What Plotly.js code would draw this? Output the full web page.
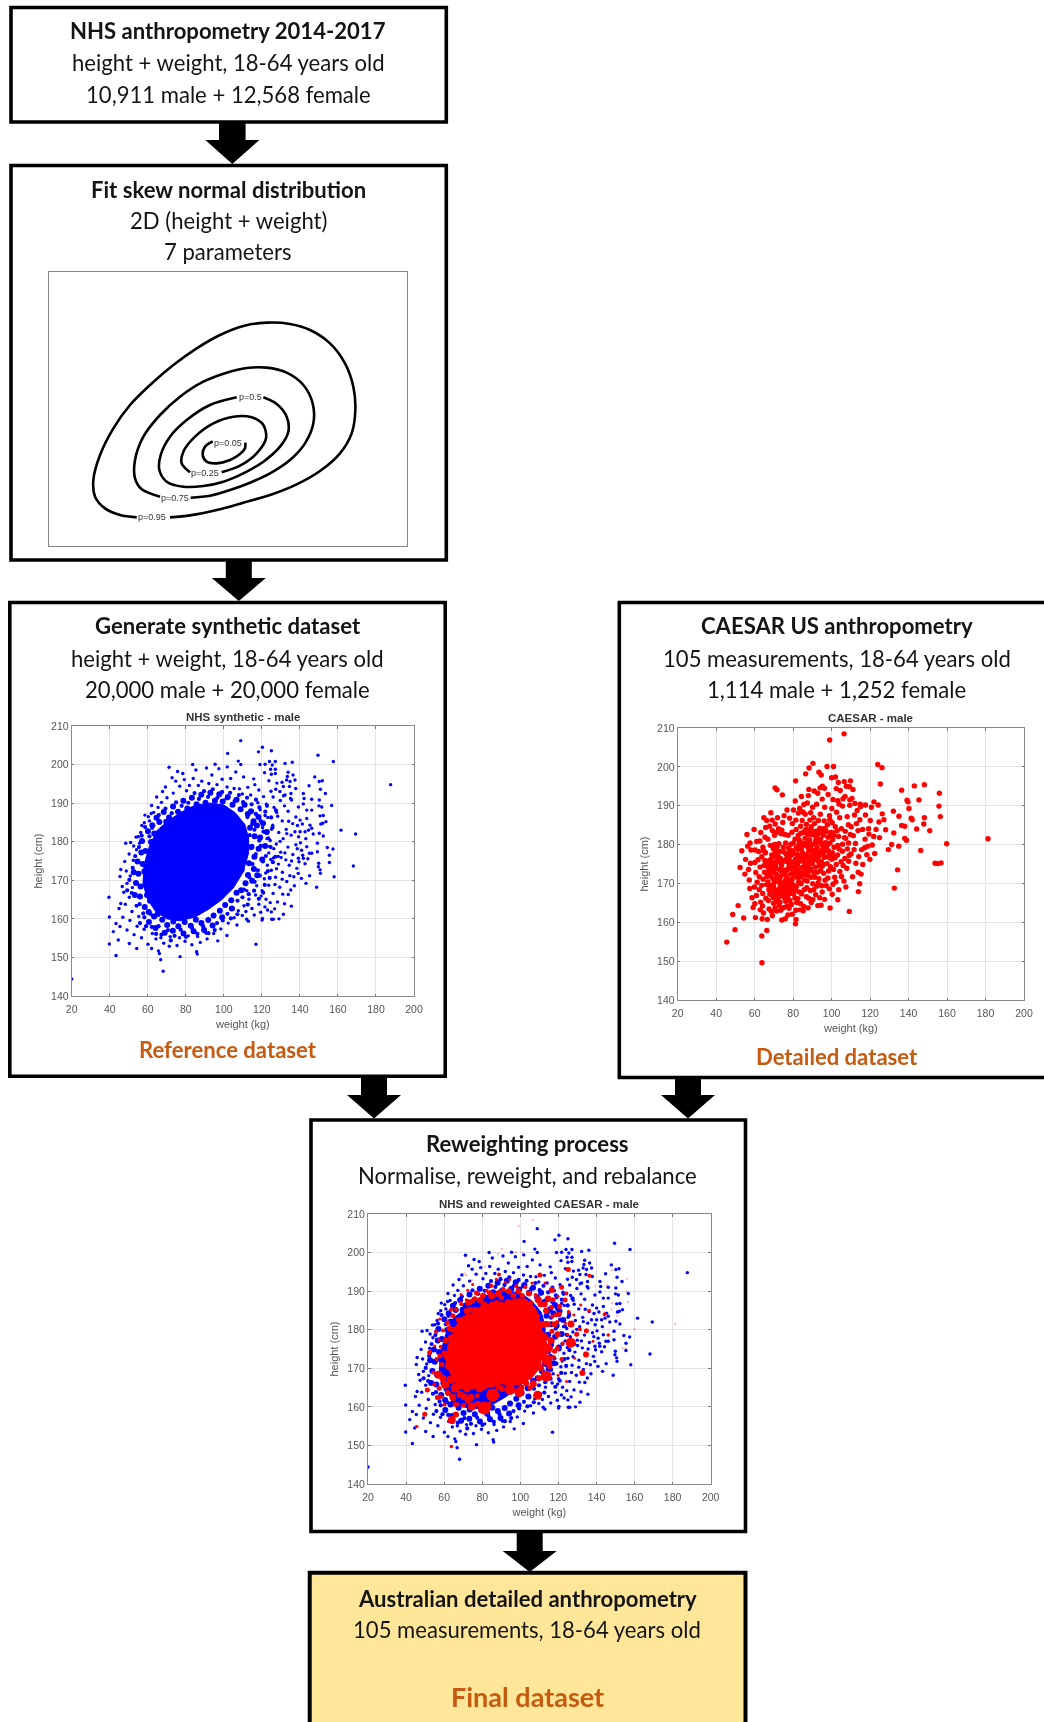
<!DOCTYPE html>
<html>
<head>
<meta charset="utf-8">
<script src="https://cdn.plot.ly/plotly-3.0.1.min.js"></script>
<style>html,body{margin:0;padding:0;background:#fff;overflow:hidden}#chart{width:1044px;height:1722px;filter:blur(0.4px)}text{font-variant-ligatures:none}</style>
</head>
<body>
<div id="chart"></div>
<script>
// ---------- contour lines of the fitted distribution ----------
const contour95 = [[300,652],[360,646],[440,630],[520,608],[600,585],[680,553],[750,513],[810,460],[845,400],[856,330],[850,260],[825,190],[780,130],[720,90],[660,72],[590,68],[520,78],[450,105],[380,145],[310,195],[240,255],[180,315],[130,385],[90,465],[70,540],[75,590],[105,625],[150,645],[200,652]];
const contour75 = [[362,593],[420,587],[480,570],[540,548],[600,520],[660,480],[705,430],[730,370],[728,310],[700,255],[650,218],[590,203],[530,204],[470,218],[400,245],[330,290],[270,345],[220,410],[195,480],[195,535],[215,568],[270,590]];
const contour50 = [[580,292],[620,312],[650,350],[655,395],[630,440],[580,485],[520,520],[460,545],[400,558],[340,560],[290,545],[268,510],[272,465],[300,410],[350,360],[420,315],[500,292]];
const contour25 = [[455,517],[510,497],[560,460],[588,415],[580,375],[545,352],[490,350],[430,370],[375,410],[340,455],[335,490],[360,517]];
const contour05 = [[526,428],[525,445],[510,462],[480,480],[440,490],[410,485],[398,465],[405,440],[428,424]];
const contourLabels = ['p=0.95','p=0.75','p=0.5','p=0.25','p=0.05'];
const contourLabelX = [246,316,540,405,475];
const contourLabelY = [652,593,292,518,428];

// ---------- NHS synthetic male [weight, height] ----------
const nhsCore = [[57.5,169],[58,174],[61,179],[65,183],[71,185.5],[77,187.5],[85,189.5],[93,190],[100,189.5],[106,187.5],[111,184.5],[113,181],[113,177],[110,172],[105,168],[99,165],[92,162.5],[85,160.5],[77,159.5],[70,160],[64,162],[60,165],[57.5,169]];
const nhsClumps = [
[56.2,168.4],[55.1,171.7],[57.3,174.2],[55.9,165.8],[58.4,163.1],[54.6,174.9],[58.8,177.6],[57,180.2],[60.1,182.7],[56.6,177.2],[59.4,169.7],[53.8,169.3],[58.2,172.3],[60.5,161.8],[62.4,184.3],[64.6,186.2],[61.7,179.9],[63.4,182.1],[66.1,185.1],[53.2,166.2],[52.6,172.1],[61.2,164.7],[63.3,160.6],[59.6,166.2],
[68.4,187.7],[71.2,186.3],[73.3,189.1],[75.9,187.8],[78.7,190.6],[80.8,188.6],[83.2,191.4],[85.7,189.7],[88.1,192.2],[90.4,190.1],[92.9,192.7],[95.3,190.6],[97.6,192.3],[99.4,190.4],[102.1,191.6],[104.6,189.6],[106.7,190.9],[108.8,188.4],[110.9,189.6],[112.6,187.2],[114.3,187.9],[115.6,185.3],[69.7,185.2],[76.4,185.6],[82.1,187.3],[87.4,188.5],[94.1,188.9],[100.8,188.4],
[113.8,183.6],[116.2,181.4],[117.4,184.2],[114.6,178.7],[118.3,178.2],[116.1,176.1],[113.2,174.4],[119.1,181.1],[120.6,184.8],[118.2,186.4],[112.7,171.4],[115.8,172.9],[121.7,178.9],[120.2,175.4],[111.4,169.2],[114.9,169.9],[117.6,171.3],[109.4,172.7],[122.6,182.5],
[106.7,166.8],[103.9,164.8],[109.1,167.4],[100.7,163.6],[97.9,162.1],[104.2,162.7],[94.6,160.9],[99.1,160.4],[91.8,159.7],[88.2,158.9],[85.3,159.8],[82.6,158.2],[79.4,159.2],[76.1,158.1],[73.4,159.3],[70.2,158.4],[67.6,159.8],[65.1,161.2],[64.1,157.6],[68.9,156.4],[73.2,156.9],[78.8,156.2],[84.1,156.8],[89.6,157.1],[94.1,158.3],[60.6,159.2]
];
const nhsBand = [
[112.4,186.4],[114.9,184.6],[116.8,187.2],[119.3,185.4],[121.8,187.8],[113.6,181.7],[116.1,183.1],[118.6,180.3],[120.9,182.6],[123.4,180.9],[125.6,183.7],[114.2,178.3],[116.8,176.8],[119.4,178.9],[122.1,176.3],[124.6,178.6],[127.1,176.1],[115.1,174.2],[117.9,172.6],[120.6,174.9],[123.2,172.4],[125.8,174.7],[113.4,170.8],[116.2,169.6],[118.9,171.2],[121.5,168.8],[124.1,170.6],[110.6,167.6],[113.1,166.4],[115.9,167.3],[118.4,165.2],[120.7,166.8],[107.2,164.7],[109.8,165.6],[112.6,163.7],[104.8,162.6],[107.1,161.2],[101.9,161.3],[99.4,159.6],[96.4,158.9],[103.7,160.1],
[62.3,183.6],[65.8,186.9],[69.3,188.6],[72.6,187.4],[74.9,190.2],[77.8,189.3],[81.3,190.1],[84.6,192.6],[86.9,191.1],[89.6,193.1],[91.7,191.6],[94.2,193.6],[96.6,191.4],[99.1,192.9],[101.4,191.2],[103.3,192.7],[105.7,190.6],[107.9,192.1],[110.1,190.3],[112.2,191.4],[114.6,189.7],[116.9,190.9],[118.7,188.9],[122.7,189.3],[124.9,186.3],[127.4,188.1],
[54.1,163.4],[51.6,166.7],[50.3,170.1],[52.1,173.2],[53.4,176.3],[55.4,178.6],[56.8,181.6],[58.6,183.8],[60.9,181.4],[57.6,161.4],[55.7,163.8],[49.2,167.4],
[59.1,158.1],[62.1,157.9],[65.7,158.1],[67.2,155.9],[70.6,157.1],[74.1,155.6],[77.3,157.2],[80.1,155.3],[83.3,157.6],[86.1,156.1],[89.1,158.1],[91.9,156.3],[95.2,157.1],[58.2,160.4],[61.6,161.2],[72.1,154.4],[64.4,156.1],[55.9,158.9]
];
const nhsPoints = [
[187.7,194.8],[149.5,202.4],[157.6,200.8],[108.9,206.2],[120.3,204.5],[118.2,203.3],[125,203.6],[147.8,196.8],[150.2,195.6],[151.8,195.8],[144.8,194.5],[153.4,192.5],[150.8,193.6],[150.2,190.8],[146.2,191],[156.7,189.4],[150,189.3],[151.5,189],[153.7,185.2],[152,184.8],[151,184.6],[152.3,186.8],[150.6,186.7],[161.6,183],[169.3,182],[152.3,181.5],[150.2,182.2],[147,182],[154.4,178.5],[157.4,178.1],[149.2,179.6],[155.5,176.5],[155.5,174.6],[168.1,173.7],[149.9,174.4],[149.7,173.5],[150.6,172.7],[150.8,171.8],[158,170.9],[145.1,171.2],[140.8,170.5],[143.2,169.2],[148.8,168.2],[135.2,167.5],[131,166.4],[135.5,163.3],[131.3,161.2],[116.9,153.4],[129,160],[126,159.9],[125.2,159.9],[120.3,160.1],[120.1,159.7],[123,162.3],[125,161.8],[112.9,159.4],[112,159.9],
[119,200],[121.7,200.1],[124,200.8],[127.1,200.8],[125.5,199.9],[132.2,200.3],[136,200.6],[124.6,198.8],[127.1,198.8],[127.1,197.7],[125,197.5],[133.8,198],[136.4,197.3],[133.4,196.9],[137.4,196],[134.8,195.6],[133,196],[134.5,194.3],[131.3,194.3],[137.8,193.8],[129.5,193],[132.2,192.1],[135.3,192.5],[141.8,192.5],[142.2,191.2],[139.2,189],[141.8,189.8],[146.2,188.2],[143.6,188.2],[140.1,185.6],[143.6,186],[145.3,184.3],[146.2,183.5],[144.5,183],[142.7,182.6],[140.1,182.6],[137.4,182.6],[143.6,178.7],[141.5,176.5],[141.8,175.7],[139.2,175.7],[139.5,174.8],[146.2,177],[145,177],[149.2,177.4],
[39.6,165.6],[39.8,160.5],[39.8,153.5],[43.3,150.5],[66.8,149.4],[68.1,146.4],[77,150.2],[85.7,151.5],[86,150.9],[65.6,151.7],[66.1,151],[62,152.3],[54.2,152.3],[50.3,153.6],[44.5,154.5],[41.9,156.7],[43.3,158.8],[45.4,158],[45.8,164],[45.4,171],[45.8,172.8],[48.4,179.6],[51,179.8],[56.3,182.4],[55,181.3],[58.5,186.9],[60.3,186.5],[62,189.4],[67.8,193],[71.2,199.3],[75.7,198.2],[78.4,197.7],[83.6,200],[95.4,200.1],[101.8,199.4],[107.6,200.9],[108.9,200],[102,202.9],[20,144.4],
[118.4,193.4],[123.7,195.8],[112.6,194.1],[120.9,191.7],[127.3,193.6],[115.7,196.3],[121.4,197.9],[110.4,196.8],[106.3,198.1],[99.1,196.2],[93.7,197.3],[88.4,195.7],[81.9,194.6],[85.3,198.6],[90.9,199.1],[97.4,198.9],[103.6,196.4],[108.2,193.7],[114.1,192.1],[124.8,193.1],[129.7,190.7],[126.4,188.9],[131.9,189.3],[135.6,190.8],[128.3,186.6],[123.1,186.3],[137.9,186.4],[133.8,187.9],[130.7,185.4],[125.7,184.3],[136.2,184.7],[132.8,183.2],[128.9,182.4],[124.4,180.3],[121.7,186.8],[139.3,181.3],[135.4,181.7],[131.2,180.8],[127.6,179.4],[123.6,177.1],[137.9,179.2],[133.7,178.6],[129.9,177.3],[126.1,175.8],[122.9,173.9],[140.9,177.8],[136.3,176.7],[132.6,175.3],[128.7,174.2],[125,172.6],[121.3,170.4],[138.4,173.1],[134.4,173.9],[130.8,172.1],[127.2,170.8],[123.6,168.7],[120.1,167.3],[136.8,170.9],[133.1,169.7],[129.4,168.2],[125.9,166.6],[122.2,165.1],[118.4,163.8],[116.7,166.2],[113.2,165.1],[110.6,163.4],[107.6,162.1],[114.8,162.7],[119.4,161.7],[117.3,168.6],[128.2,164.4],[131.9,163.9],[126.7,162.6],[112.1,167.3],[109.7,160.9],[105.4,160.3],[102.3,158.9],[106.9,158.4],[98.4,157.4],[94.7,156.2],[101.6,155.7],[91.2,154.8],[96.8,154.3],[87.6,153.9],[83.2,153.3],[79.6,154.2],[75.4,153.1],[71.3,152.9],[68.4,153.7],[64.3,154.8],[60.1,153.4],[56.7,155.1],[52.8,155.9],[49.1,157.1],[46.9,160.4],[50.6,159.6],[54.4,158.1],[58.1,157.3],[62.4,156.2],[66.9,155.1],[71.8,155.4],[76.7,155.1],[81.3,155.6],[86.2,155.4],[90.7,156.3],[44.9,162.7],[48.2,163.8],[51.7,161.9],[55.3,160.6],[47.4,166.9],[50.3,165.6],[49.1,169.2],[46.6,168.4],[51.9,168.1],[48.7,172.4],[50.8,171.1],[47.9,174.9],[52.4,175.2],[50.2,176.8],[54.1,177.9],[52.6,178.9],[55.7,179.6],[53.8,181.2],[58.2,184.9],[60.9,185.4],[56.9,184.2],[63.1,187.6],[65.4,188.9],[61.8,187.3],[67.2,190.2],[70.1,191.4],[73.4,192.6],[69.3,194.2],[64.7,191.6],[76.8,194.4],[80.4,193.2],[74.7,195.7],[72.8,196.6],[79.2,196.1],[83.9,196.4],[86.6,194.6],[92.1,195.1],[96.4,194.8],[101.7,194.2],[105.4,193.8],[109.7,192.4],[117.9,190.1],[122.4,189.7],[119.1,188.3],[125.9,191.6],[116.3,194.8],[127.9,195.2],[130.6,195.4],[135.1,191.2],[138.7,184.2],[134.1,185.3],[141.3,184.6],[143.1,180.8],[140.3,179.7],[138.6,178.2],[142.7,174.3],[144.2,175.6],[137.1,168.6],[139.1,171.8],[134.7,171.2],[130.1,175.9],[126.3,178.2],[122.7,180.8],[125.1,183.2],[120.4,183.7],[129.6,180.1],[133.1,182.1],[127.8,187.6],[131.4,191.9],[124.1,178.8],[122,171.9],[126.9,168.9],[130.7,170.3],[119.6,165.9],[124.4,164.2],[121.6,163.1],[116,161],[111.6,161.9],[133.9,166.3],[127.7,173],[124.7,175.4],[135.6,175],[132.1,177.1],[128.6,176.2]
];

// ---------- CAESAR male [weight, height] ----------
const caesarOutliers = [[106.5,208.5],[99,206.9],[90.3,200.9],[88.3,199.7],[86.5,198.2],[97.6,200.1],[101,200.1],[124,200.6],[126.2,199.8],[125.3,195.6],[136.4,194],[143,195.1],[148.2,195.4],[156,193.2],[155.8,189.9],[156.5,187.2],[145.4,191.5],[139.2,191.4],[139.7,191],[140.2,189.3],[135,187.3],[132.1,188.6],[141.4,186.8],[141.9,186.4],[148.2,186.9],[147.9,185.3],[151,183.6],[144.2,184],[136.4,184.9],[138,184.7],[132.3,183],[128.1,183.8],[181.3,181.5],[159.8,180.2],[138,181.6],[138.9,181.1],[134.9,179.6],[131.2,180],[129.5,178.7],[146.3,178.5],[153.8,175.2],[155.3,175.1],[156.9,175.3],[134.3,173.5],[132.6,168.8],[113.9,167.9],[109.2,162.8],[103.2,165.8],[99.2,163.7],[94.5,164.4],[90.2,165.8],[85.2,163],[81.2,159.6],[81.5,160.7],[45.5,154.9],[49.8,158.1],[63.7,156.5],[66.3,157.9],[63.8,149.6],[48.6,162],[51.4,164.3],[54.3,161.1],[52.4,174.1],[53.3,178.4],[56,182.6],[56.4,179.6],[57.6,180.4],[70.6,194.6],[71.6,194.1],[74.4,192.8],[81.3,196.4]];
const caesarPoints = [
[93.4,198.6],[94.6,197.9],[95.2,195],[100,197.2],[102,197.4],[103.5,196],[106.6,196.2],[109.8,196.4],[107.6,195],[109.3,194.9],[102.4,194.4],[104.5,193.9],[111.1,194.2],[94,194.6],[96.3,194.5],[91,193.8],[88.2,194.2],[92.8,193.2],[98.2,192.9],[100.7,191.6],[103.2,191.3],[105.9,191.8],[109.5,191.5],[112.1,190.6],[114.9,190.4],[117.6,190.2],[122,191],[124.2,190.2],
[71.3,172.4],[74.8,170.2],[68.6,174.1],[77.2,173.6],[72.9,168.7],[66.4,171.8],[79.5,171.1],[75.7,175.9],[70.4,176.8],[82.3,174.7],[73.1,178.2],[78.6,167.4],[67.9,167.2],[84.6,172.2],[64.9,174.6],[76.1,165.4],[69.8,164.9],[81.7,169.3],[63.7,169.5],[87.3,170.6],[74.3,173.1],[72.2,170.9],[76.9,171.4],[70.1,170.1],[78.1,175.1],[65.7,177.9],[80.2,177.7],[68.1,179.8],[83.4,176.4],[62.4,171.7],[85.7,168.4],[71.7,166.1],[75.2,163.8],[67.1,165.6],[79.1,164.6],[64.2,167.4],[88.4,173.2],[73.7,175.3],[69.3,172.9],[77.8,169.4],[66.2,169.7],[82.1,171.6],[74.5,167.9],[70.9,174.6],[76.4,177.6],[72.6,180.2],[80.9,166.3],[84.1,169.9],[68.9,177.3],[86.1,175.6],[75.3,169.3],[73.4,171.7],[78.7,172.4],[71.2,168.1],[65.1,172.9],[83.2,167.8],[67.5,163.4],[91.2,171.6],[77.3,161.9],[72.8,164.3],[69.2,161.7],[63.1,165.2],[60.6,172.8],[61.8,176.1],[59.9,169.1],[62.9,163.2],[58.6,166.3],[57.2,170.9],[66.6,160.7],[60.4,161.2],[74.1,160.6],[88.9,168.2],[92.3,169.3],[86.9,166.6],[95.1,167.8],[81.4,163.1],[83.9,164.8],[77.9,163.6],[71.4,162.9],[64.6,162.4],[59.2,163.8],[56.8,173.6],[55.3,176.2],[58.1,178.6],[61.1,180.8],[64.3,179.3],[66.9,181.4],[70.3,182.4],[63.2,183.1],[59.7,183.9],[67.8,184.7],[72.4,184.1],[75.7,182.6],[78.8,180.1],[81.7,179.2],[84.4,178.6],[87.2,177.4],[89.9,175.1],[92.6,172.9],[95.4,174.8],[98.1,171.4],[100.7,169.8],[97.2,169.4],[93.8,166.3],[89.4,165.1],[85.6,164.1],
[88.6,181.2],[92.4,179.3],[85.4,183.1],[95.7,182.4],[90.1,176.9],[83.2,181.1],[98.3,178.4],[87.1,179.6],[93.9,184.2],[81.6,183.9],[100.6,181.3],[96.2,176.7],[89.4,184.6],[103.1,177.3],[84.7,186.2],[91.3,182.4],[97.8,185.1],[86.6,176.8],[94.7,178.1],[101.9,184.6],[88.1,178.4],[92.9,175.8],[99.4,174.3],[105.7,180.1],[79.6,185.4],[90.7,186.9],[96.8,180.2],[102.4,174.9],[85.8,180.3],[94.2,181.3],[99.7,183.1],[107.1,183.4],[83.9,184.7],[104.2,186.9],[91.9,178.2],[89.2,173.7],[95.9,172.6],[100.1,176.2],[86.3,173.9],[104.3,173.1],[106.9,176.4],[108.8,180.4],[110.2,184.6],[98.9,187.4],[94.1,187.8],[89.1,188.2],[101.3,179.3],[93.3,176.9],[87.8,182.6],[82.4,178.8],[97.1,183.4],[103.6,182.1],[90.3,180.1],[85.1,177.7],[94.8,183.2],[91.1,185.4],[86.9,185.2],[99.2,180.4],[105.1,184.1],[102.6,188.3],[108.1,187.2],[96.4,189.6],[92.2,190.4],[87.4,190.7],[83.4,189.3],[105.7,189.9],[111.9,187.6],[109.4,190.1],[113.7,183.6],[112.4,180.3],[110.1,177.6],[115.6,178.7],[117.4,181.4],[119.2,184.1],[114.7,186.4],[118.3,177.4],[121.1,179.9],[116.2,174.9],[113.8,172.9],[110.9,171.7],[107.9,173.9],[106.4,170.6],[103.7,168.4],[101.6,171.6],[112.6,175.2],[114.6,169.9],[115.3,172.4],[120.1,186.2],[123.1,183.9],[122.4,177.7],[124.6,185.8],[117.6,187.6],[120.7,189.6],[115.1,189.8],[126.3,187.9],[127.2,186.4],[124.9,181.8],[119.4,182.7],[108.7,185.1],[111.3,182.3],
[78.2,186.8],[74.6,185.7],[70.7,185.3],[66.3,186.2],[82.7,188.1],[85.6,190.3],[81.1,191.2],[84.3,192.4],[87.9,192.6],[76.8,188.9],[68.4,188.2],[64.8,186.9],[79.4,183.2],[76.1,180.4],[73.8,182.8],[69.2,183.6],[65.4,181.9],[62.1,178.2],[60.1,175.4],[57.8,175.2],[77.6,179.1],[80.8,175.4],[79.3,173.8],[81.2,168.2],[84.9,174.2],[87.9,171.9],[90.2,169.9],[93.4,171.2],[96.6,170.8],[94.3,173.3],[91.6,174.2],[98.4,173.2],[89.2,178.9],[84.6,179.9],[82.7,182.4],[86.3,187.8],[81.4,186.3],[93.1,186.2],[89.8,183.1],[96.2,186.1],[100.3,185.6],[98.1,181.9],[103.2,179.8],[105.6,178.3],[101.8,176.6],[108.2,178.9],[107.3,181.6],[104.9,175.6],[95.2,179.8],[92.1,177.1],[87.1,175.1],[75.1,166.7],[73.6,163.1],[70.6,163.7],[68.2,168.9],[65.8,166.2],[62.4,168.4],[60.9,166.9],[64.1,164.2],[77.1,166.6],[79.9,169.7],[76.2,168.3],[72.3,175.7],[69.7,178.9],[66.8,175.7],[63.7,176.9],[74.9,179.3],[71.6,179.4],[83.1,179.9],[78.9,177.2],[81.3,176.3],[80.3,173.1],
[69.4,171.3],[74,174.7],[67.4,168.4],[80.4,172.2],[76.1,170.8],[71.1,165.2],[64.4,171.1],[78.3,165.6],[82.9,170.4],[86,172.4],[73,166.9],[70.7,178.1],[67.2,173.9],[61.3,170.3],[65.3,175.9],[62.8,174.2],[60.1,164.8],[63.9,160.9],[68.7,162.8],[57.5,168.7],[54.9,172.4],[83.7,163.2],[79.6,162.1],[75.9,160.9],[88.1,166.2],[91.7,167.1],[94.9,169.4],[98.9,168.6],[102.2,170.4],[105.1,171.8],[107.4,169.1],[100.3,167.2],[96.3,165.9],[92.8,164.3],[87.8,163.7],[81.8,165.1],[108.9,175.7],[111.7,178.7],[114.1,176.9],[117.2,179.2],[119.9,176.2],[121.9,182.1],[118.8,179.6],[112.9,185.4],[116.1,183.9],[113.3,188.8],[110.6,191.9],[107,192.4],[103.9,190.4],[100.1,189.3],[95.1,191.7],[90.1,189.6],[85.1,188.4],[80.2,188.9],[75.3,187.4],[71.9,186.9],[69.1,186.3],[74.1,183.7],[77.4,182.4],[81,181.4],[86.2,181.6],[91.8,181.1],[96.7,178.9],[100.4,177.9],[103.8,178.9],[106.7,181.8],[109.7,182.6],[102.9,183.6],[99.1,186.4],[93.7,182.9],[88.7,186.3],[84.1,182.9],[80.1,180.4],[75.2,178.1],[72.1,177.1],[68.2,176.1],[64.7,178.4],[62.7,180.9],[60.2,178.6],[65.7,184.4],[71.3,183.1],[79.1,175.6],[83,173.4],[85.9,170.9],[89.4,171.6],[93,170.1],[97.7,175.1],[101,173.6],[106,174.6],[109.1,177.2],[90.9,172.8],[94.6,175.6],[91.4,176.2],[88.4,176.9],[84.9,175.9],[82.4,177.4],[77.9,174.4],[75.9,172.2],[72.9,173.6],[70.2,175.4],[66.9,170.4],[69.9,167.9],[73.4,169.8],[77.3,168.4],[80.2,167.4],[76.9,164.2],[73.2,165.2],[69.6,166.4],[82.5,166.1],[84.4,167.3],[87.1,168.9],[90.7,168.4]
];
const caesarDense = [[72,171],[75,173],[78,170],[70,174],[74,168],[77,176],[81,174],[69,169],[83,172],[85,177],[88,180],[91,178],[87,175],[93,181],[90,183],[95,178],[84,180],[97,180],[79,178],[73,176],[71.4,166.6],[67.6,172.4],[75.8,166.8],[80.4,168.8],[66.8,175],[70.6,179.6],[82.6,176],[86.4,172.8],[89.6,176.2],[92.2,183],[96,183.6],[99.4,177],[87,183.4],[100.2,182.6],[94.6,174.8]];

// ---------- reweighted CAESAR [weight, height, size] ----------
const reweightedCore = [[61,171],[62,176],[65,179],[68,183],[74,184],[79,186],[86,187],[92,187],[98,188],[103,188],[108,185.5],[111,181],[112,175],[110,170],[106,167.5],[101,166],[96,165.5],[90,166],[84,165],[78,165],[72,164.5],[66,166],[61,171]];
const reweightedDiscs = [
[81.1,159.7,13],[85.5,163.1,13],[64,156.6,8],[66.2,158,6],[74.5,160.1,8],[74.1,162.5,7],[109.1,163,9],[113.7,168,11],[99.5,163.8,10],[94.6,164.4,10],[103,166.1,6],[132.6,168.8,6],[134.5,173.6,6],[126.5,176.6,10],[126.6,181.5,7],[114,172.2,11],[114.7,175.2,9],[125.2,195.6,5],[51.2,164.4,5],[49.8,158.1,5],[45.6,154.9,3.5],[63.8,149.7,3.5],[52.4,174.1,5],[57,168.3,8],[60.6,165.7,8],[60.8,177.2,6],[146.2,178.6,3.5],[144.3,184,4],[134.7,179.7,5],[129.6,178.8,5],[136.3,194,4],[136.1,184.9,4],[131.3,180.1,4],[119.6,178.8,6],[109,183.6,5],[114.7,188.1,6],[123.5,187.7,5],[121.7,191,5],[116.5,190.3,6],[110.3,194.2,5],[88.8,194.3,4],[77,189.5,5],[82.3,190.1,4],[91,190.5,5],[96.3,188.8,6],[103.3,185.8,8],[85,188.8,7],[78.8,187.7,6],[73.6,185.2,6],[64.8,180,6],[103.3,166.2,5],
[60,174,5],[62,170.5,6],[58.8,171,5],[61.8,181.8,5],[64.6,183.6,5],[67.4,182.6,5],[66.2,185.3,4],[69,186.6,4],[71.8,184.9,6],[74.6,187.4,5],[70.2,181.7,6],[76.4,185.2,6],[81,186.4,7],[83.4,186.1,5],[87.6,186.9,6],[90.2,188.2,5],[93.5,187.2,6],[99.4,187.1,6],[101,188.9,5],[105.4,187,5],[108,189,4],[110.6,186.6,6],[113.5,184.9,6],[116.4,185.8,5],[118.8,183.9,5],[120.6,186,5],[111.6,181.4,7],[114.4,181.4,6],[116.6,179.6,5],[113,178,7],[111.8,173.8,8],[110.6,170.2,7],[109.8,167.4,6],[106.8,166,7],[100.6,165,6],[90.4,164.6,6],[88.4,165.2,6],[78.6,164.6,7],[72,164.6,7],[68.4,163.2,7],[64.6,162.4,7],[62,163.6,6],[70.2,160.4,5],[60.2,160.6,4],[56.4,162.4,5],[57.4,164.8,5],[56,172.4,4],[55.8,179.4,4],[119.4,182,4],[125.4,184.6,4],[128.1,183.8,3],[124.2,189.4,4],[131.7,186.4,3],[102.7,191.1,4],[97.9,191.3,4],[106.1,192.1,3],[94.4,193,3],[84.7,191.4,4],[75,191.7,3],[71.6,187.8,3],[68.4,187.2,3],[119.5,175.1,5],[121.6,172.4,4],[122.2,176.4,4],[119.8,168.2,3],[124.3,166.6,3],[138.2,177,3],[128.5,172.6,3],
[59.4,167.4,7],[61.7,173.4,9],[63.4,167,8],[65.8,164.9,9],[69.4,165.6,8],[75.4,166.1,9],[80.6,165.2,7],[84.6,166.2,8],[64.1,177.8,8],[62.9,180.3,6],[66.9,179.9,9],[72.7,183.1,8],[78.7,184.6,7],[85.2,186.6,6],[90.4,185.9,8],[95.9,186.9,7],[106.3,184.8,8],[110.8,178.6,9],[112.3,176.4,7],[108.6,172.6,9],[105.9,169.6,9],[98.9,167.2,8],[93.7,166.8,7],[72.4,161.6,6],[77.4,162.8,5],[67.3,160.7,4],[58.2,175.6,4],[57.7,182.8,3],[68.9,189.1,3],[72.4,190.2,3],[92.1,192.4,3],[87.4,193.1,3],[113,192.1,3],[119.8,188.7,3],[116.8,183.4,4],[117.6,172.9,4],[124.8,178.8,3],[123.7,181.7,3],
[72.6,186.9,6],[76,188,5],[80.4,188.8,6],[83.8,189.6,5],[88.6,189.4,7],[94,190,6],[99,190,6],[104.6,189.4,6],[109.4,187.8,7],[112.8,186.6,6],[117.2,187.8,5],[120.4,184,5],[118,181.4,6],[116.2,177.2,7],[118,174.4,5],[115.4,170.6,6],[112.6,168.6,6],[105,164.8,5],[83.6,160.6,5],[77.6,160.8,6],[70.4,162.6,7],[65.8,160.6,5],[58,162.6,5],[57.8,173.2,5],[59.4,179.8,4],[63.6,185.2,4],[57.4,177.4,3],[55.1,175.8,3],[54.8,165.8,4],[54.2,168.9,4]
];
const reweightedFaint = [[106.5,208.5],[99,206.9],[90.3,200.9],[88.3,199.7],[97.6,200.1],[101,200.1],[148.2,195.4],[156,193.2],[155.8,189.9],[156.5,187.2],[145.4,191.5],[139.2,191.4],[148.2,186.9],[147.9,185.3],[151,183.6],[181.3,181.5],[159.8,180.2],[153.8,175.2],[155.3,175.1],[70.6,194.6],[71.6,194.1],[74.4,192.8],[81.3,196.4],[53.3,178.4]];

// ---------- axes and text ----------
const weightTicks = [20,40,60,80,100,120,140,160,180,200];
const heightTicks = [140,150,160,170,180,190,200,210];
const W = 1044, H = 1722;
const px = x => x / W, py = y => 1 - y / H;
const sans = 'Lato, Carlito, Calibri, sans-serif';
const arial = '"Liberation Sans", Arial, sans-serif';

function pathOf(points, stroke, bg) {
  return {type:'path', xref:'paper', yref:'paper', layer:'below',
    path:'M' + points.map(p => px(p[0]) + ',' + py(p[1])).join(' L') + ' Z',
    line:{color:stroke ? '#000' : 'rgba(0,0,0,0)', width:stroke || 0}, fillcolor:bg || 'rgba(0,0,0,0)'};
}
function box(x0, y0, x1, y1, width, bg) {
  return {type:'rect', xref:'paper', yref:'paper', layer:'below', x0:px(x0), x1:px(x1), y0:py(y1), y1:py(y0),
    line:{color:'#000', width:width}, fillcolor:bg || 'rgba(0,0,0,0)'};
}
function arrow(xc, top, neck, tip, shaftHalf, headHalf) {
  return pathOf([[xc-shaftHalf,top],[xc+shaftHalf,top],[xc+shaftHalf,neck],[xc+headHalf,neck],[xc,tip],[xc-headHalf,neck],[xc-shaftHalf,neck]], 0, '#000');
}
const shapes = [
  box(11,7.5,446.3,122,3.6),
  box(11,165.5,446.3,560,3.6),
  box(9.8,602.5,445.2,1076.2,3.6),
  box(619.3,602.5,1080,1077.5,3.6),
  box(311,1120,745.5,1531.5,3.6),
  box(309.7,1572.7,745.5,1800,4,'#FFE699'),
  arrow(232.3,122,140,164,13.3,27),
  arrow(238.8,560,578,601,13,27),
  arrow(374,1077,1095,1118.5,13,27),
  arrow(688,1077,1095,1118.5,13,27),
  arrow(529.7,1531,1551,1572,13,27)
];

function label(x, baseline, text, size, bold, color) {
  return {xref:'paper', yref:'paper', x:px(x), y:py(baseline - 0.34*size), xanchor:'center', yanchor:'middle', showarrow:false,
    text: bold ? '<b>' + text + '</b>' : text, font:{family:sans, size:size, color:color || '#141414'}};
}
function plotTitle(x, y, text) {
  return {xref:'paper', yref:'paper', x:px(x), y:py(y), xanchor:'center', yanchor:'middle', showarrow:false,
    text:'<b>' + text + '</b>', font:{family:arial, size:11.5, color:'#333'}};
}
const orange = '#C55A11', TS = 22.1;
const annotations = [
  label(228,38,'NHS anthropometry 2014-2017',TS,true),
  label(228,70,'height + weight, 18-64 years old',TS),
  label(228,102,'10,911 male + 12,568 female',TS),
  label(228,197,'Fit skew normal distribution',TS,true),
  label(228,228,'2D (height + weight)',TS),
  label(228,259,'7 parameters',TS),
  label(227.5,633,'Generate synthetic dataset',TS,true),
  label(227.5,666,'height + weight, 18-64 years old',TS),
  label(227.5,697,'20,000 male + 20,000 female',TS),
  label(227.5,1057.5,'Reference dataset',TS,true,orange),
  label(836.7,633,'CAESAR US anthropometry',TS,true),
  label(836.7,666,'105 measurements, 18-64 years old',TS),
  label(836.7,697,'1,114 male + 1,252 female',TS),
  label(836.7,1064,'Detailed dataset',TS,true,orange),
  label(527,1151.5,'Reweighting process',TS,true),
  label(527,1183,'Normalise, reweight, and rebalance',TS),
  label(527,1606,'Australian detailed anthropometry',TS,true),
  label(527,1637,'105 measurements, 18-64 years old',TS),
  label(527,1706,'Final dataset',27,true,orange),
  plotTitle(242.7,716.5,'NHS synthetic - male'),
  plotTitle(870,717.5,'CAESAR - male'),
  plotTitle(539,1204,'NHS and reweighted CAESAR - male')
];
contourLabels.forEach((t,i) => annotations.push({xref:'x', yref:'y', x:contourLabelX[i], y:contourLabelY[i], showarrow:false,
  text:t, font:{family:arial, size:9, color:'#333'}, xanchor:'center', yanchor:'middle'}));

const tickFont = {family:arial, size:10.5, color:'#555'};
const titleFont = {family:arial, size:11, color:'#555'};
function realAxis(x0, x1, anchor) {
  return {domain:[px(x0),px(x1)], range:[20,200], anchor:anchor, tickvals:weightTicks, ticktext:weightTicks.map(String),
    showgrid:true, gridcolor:'#e3e3e3', gridwidth:1, zeroline:false, showline:true, mirror:'ticks', linecolor:'#8a8a8a', linewidth:1,
    ticks:'inside', ticklen:2.5, tickcolor:'#777', tickfont:tickFont, ticklabelstandoff:3,
    title:{text:'weight (kg)', font:titleFont, standoff:6}};
}
function realYAxis(y0, y1, anchor) {
  return {domain:[py(y1),py(y0)], range:[140,210], anchor:anchor, tickvals:heightTicks, ticktext:heightTicks.map(String),
    showgrid:true, gridcolor:'#e3e3e3', gridwidth:1, zeroline:false, showline:true, mirror:'ticks', linecolor:'#8a8a8a', linewidth:1,
    ticks:'inside', ticklen:2.5, tickcolor:'#777', tickfont:tickFont,
    title:{text:'height (cm)', font:titleFont, standoff:6}};
}
const xs = a => a.map(p => p[0]), ys = a => a.map(p => p[1]);
const BLUE = '#0000FF', RED = '#FF0000';
const contourLine = (pts) => ({type:'scatter', mode:'lines', xaxis:'x', yaxis:'y', x:xs(pts), y:ys(pts), hoverinfo:'skip',
  line:{color:'#000', width:2.6, shape:'spline', smoothing:0.9}});
function coreTrace(pts, ax, ay, color) {
  return {type:'scatter', mode:'lines', xaxis:ax, yaxis:ay, x:xs(pts), y:ys(pts), fill:'toself', fillcolor:color,
    line:{color:color, width:1}, hoverinfo:'skip'};
}
function dotTrace(pts, ax, ay, color, size, opacity) {
  return {type:'scatter', mode:'markers', xaxis:ax, yaxis:ay, x:xs(pts), y:ys(pts), hoverinfo:'skip',
    marker:{color:color, size:size, opacity:opacity || 1, line:{width:0}}};
}
const data = [
  contourLine(contour95), contourLine(contour75), contourLine(contour50), contourLine(contour25), contourLine(contour05),
  coreTrace(nhsCore,'x2','y2',BLUE), dotTrace(nhsClumps,'x2','y2',BLUE,6), dotTrace(nhsBand,'x2','y2',BLUE,4.2), dotTrace(nhsPoints,'x2','y2',BLUE,3.4),
  dotTrace(caesarDense,'x3','y3',RED,9), dotTrace(caesarPoints,'x3','y3',RED,5.4), dotTrace(caesarOutliers,'x3','y3',RED,5.4),
  coreTrace(nhsCore,'x4','y4',BLUE), dotTrace(nhsClumps,'x4','y4',BLUE,6), dotTrace(nhsBand,'x4','y4',BLUE,4.2), dotTrace(nhsPoints,'x4','y4',BLUE,3.4),
  dotTrace(reweightedFaint,'x4','y4',RED,2.5,0.25),
  coreTrace(reweightedCore,'x4','y4',RED),
  {type:'scatter', mode:'markers', xaxis:'x4', yaxis:'y4', x:xs(reweightedDiscs), y:ys(reweightedDiscs), hoverinfo:'skip',
    marker:{color:RED, size:reweightedDiscs.map(d => d[2]), opacity:1, line:{width:0}}}
];
const layout = {
  width:W, height:H, margin:{l:0,r:0,t:0,b:0,pad:0}, paper_bgcolor:'#fff', plot_bgcolor:'#fff', showlegend:false, hovermode:false,
  xaxis:{domain:[px(48.7),px(407)], range:[-64,1011], showgrid:false, zeroline:false, showticklabels:false, ticks:'', showline:true, mirror:true, linecolor:'#888', linewidth:1.4},
  yaxis:{domain:[py(545.7),py(272.3)], range:[737,-83], showgrid:false, zeroline:false, showticklabels:false, ticks:'', showline:true, mirror:true, linecolor:'#888', linewidth:1.4},
  xaxis2:realAxis(71.7,414,'y2'), yaxis2:realYAxis(726,996,'x2'),
  xaxis3:realAxis(677.7,1024,'y3'), yaxis3:realYAxis(728,1000,'x3'),
  xaxis4:realAxis(368,710.7,'y4'), yaxis4:realYAxis(1214,1484,'x4'),
  shapes:shapes, annotations:annotations
};
Plotly.newPlot('chart', data, layout, {displayModeBar:false, responsive:false});
</script>
</body>
</html>
